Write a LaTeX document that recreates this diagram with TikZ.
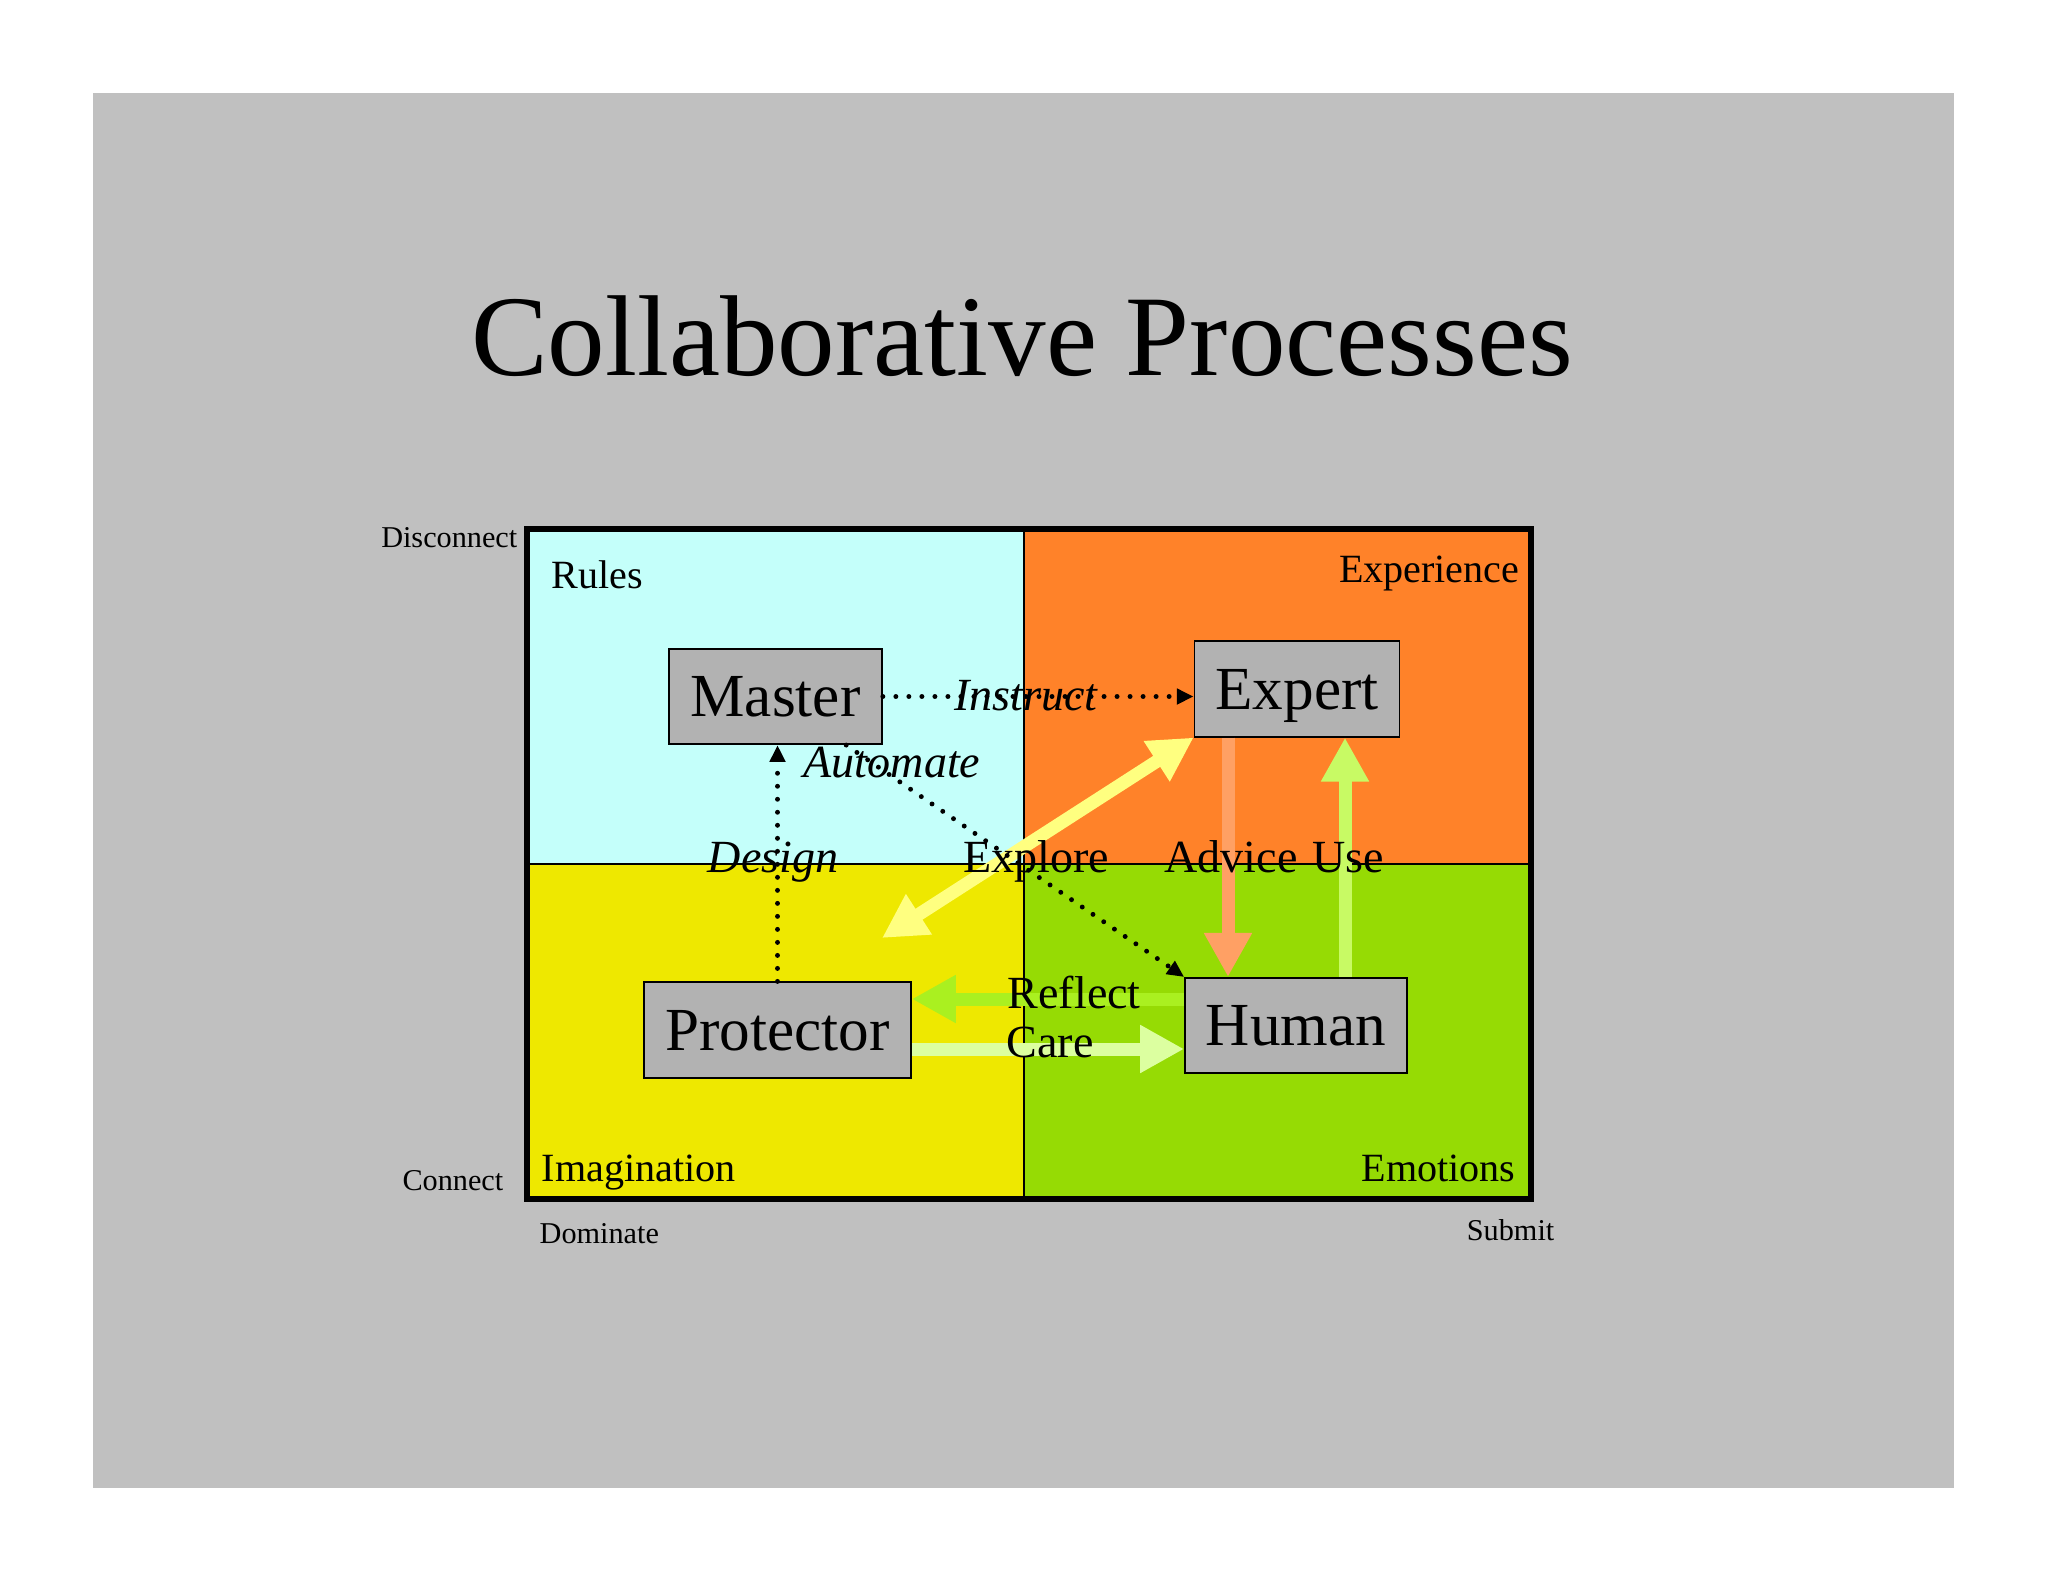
\documentclass[tikz,border=0pt]{standalone}
\usepackage{fontspec}
\setmainfont{Liberation Serif}
\usetikzlibrary{arrows.meta}
\definecolor{pagegray}{HTML}{C0C0C0}
\definecolor{qcyan}{HTML}{C4FFFA}
\definecolor{qorange}{HTML}{FF8229}
\definecolor{qyellow}{HTML}{EEE800}
\definecolor{qgreen}{HTML}{96DB04}
\definecolor{boxgray}{HTML}{B2B2B2}
\definecolor{explorecol}{HTML}{FFFF80}
\definecolor{advicecol}{HTML}{FFA064}
\definecolor{usecol}{HTML}{C8FA64}
\definecolor{reflectcol}{HTML}{AAF020}
\definecolor{carecol}{HTML}{DCFFA0}
\begin{document}
\begin{tikzpicture}[x=0.01cm,y=-0.01cm,
  procbox/.style={draw=black, line width=0.45pt, fill=boxgray, inner sep=0pt,
    minimum height=0.955cm, font=\fontsize{17.4pt}{20pt}\selectfont,
    text height=11.5pt, text depth=0pt},
  edgelab/.style={inner sep=0pt, anchor=base, font=\fontsize{13.1pt}{15pt}\selectfont},
  quadlab/.style={inner sep=0pt, font=\fontsize{11.4pt}{13pt}\selectfont},
  axislab/.style={inner sep=0pt, font=\fontsize{8.6pt}{10pt}\selectfont},
  dotline/.style={line width=1.4pt, line cap=round, dash pattern=on 0pt off 3.7pt,
    -{Triangle[length=4.8pt,width=4.3pt]}},
  fatline/.style={line width=3.7pt}
]
\useasboundingbox (0,0) rectangle (2048,1582);
\fill[white] (0,0) rectangle (2048,1582);
\fill[pagegray] (93,93) rectangle (1954,1488);

% title
\node[inner sep=0pt, anchor=base, font=\fontsize{32.7pt}{36pt}\selectfont] (title) at (1022,376) {Collaborative Processes};

% quadrants
\fill[qcyan] (527,529) rectangle (1024,864);
\fill[qorange] (1024,529) rectangle (1531,864);
\fill[qyellow] (527,864) rectangle (1024,1199);
\fill[qgreen] (1024,864) rectangle (1531,1199);
\draw[line width=0.45pt] (1024,529) -- (1024,1199);
\draw[line width=0.45pt] (527,864) -- (1531,864);
\draw[line width=1.45pt] (527,529) rectangle (1531,1199);

% quadrant and axis labels
\node[quadlab, anchor=base west] (rules) at (551,588) {Rules};
\node[quadlab, anchor=base east] (experience) at (1520,582) {Experience};
\node[quadlab, anchor=base west] (imagination) at (541,1181) {Imagination};
\node[quadlab, anchor=base east] (emotions) at (1516,1181) {Emotions};
\node[axislab, anchor=base east] (disconnect) at (518,547) {Disconnect};
\node[axislab, anchor=base east] (connect) at (504,1190) {Connect};
\node[axislab, anchor=base west] (dominate) at (539,1243) {Dominate};
\node[axislab, anchor=base east] (submit) at (1555,1240) {Submit};

% process boxes
\node[procbox, minimum width=2.13cm] (master) at (775.5,696.5) {Master};
\node[procbox, minimum width=2.05cm] (expert) at (1297,689) {Expert};
\node[procbox, minimum width=2.67cm] (protector) at (777.5,1030) {Protector};
\node[procbox, minimum width=2.22cm] (human) at (1296,1025.5) {Human};

% helper coordinates
\coordinate (explorefree) at (882,938);
\coordinate (advx) at (1228,0);
\coordinate (usex) at (1345,0);
\coordinate (refy) at (0,999);
\coordinate (carey) at (0,1049);

% thick coloured arrows
\draw[fatline, explorecol, {Triangle[length=12.5pt,width=12.8pt]}-{Triangle[length=12.5pt,width=12.8pt]}] (explorefree) -- (expert.south west);
\draw[fatline, advicecol, -{Triangle[length=12.5pt,width=12.8pt]}] (advx |- expert.south) -- (advx |- human.north);
\draw[fatline, usecol, -{Triangle[length=12.5pt,width=12.8pt]}] (usex |- human.north) -- (usex |- expert.south);
\draw[fatline, reflectcol, -{Triangle[length=12.5pt,width=12.8pt]}] (human.west |- refy) -- (protector.east |- refy);
\draw[fatline, carecol, -{Triangle[length=12.5pt,width=12.8pt]}] (protector.east |- carey) -- (human.west |- carey);

% edge labels
\node[edgelab] (lexplore) at (1036,872) {Explore};
\node[edgelab] (ladvice) at (1231,872) {Advice};
\node[edgelab] (luse) at (1348,872) {Use};
\node[edgelab, anchor=base west] (lreflect) at (1007,1008) {Reflect};
\node[edgelab, anchor=base west] (lcare) at (1006,1057) {Care};
\node[edgelab, font=\fontsize{13.1pt}{15pt}\selectfont\itshape] (ldesign) at (773,872) {Design};
\node[edgelab, font=\fontsize{13.1pt}{15pt}\selectfont\itshape] (linstruct) at (1026,710) {Instruct};
\node[edgelab, font=\fontsize{13.1pt}{15pt}\selectfont\itshape] (lautomate) at (892,777) {Automate};

% dotted arrows
\draw[dotline] (master.east) -- (master.east -| expert.west);
\draw[dotline] (protector.north) -- (protector.north |- master.south);
\draw[dotline] (master) -- (human.north west);
\end{tikzpicture}
\end{document}
